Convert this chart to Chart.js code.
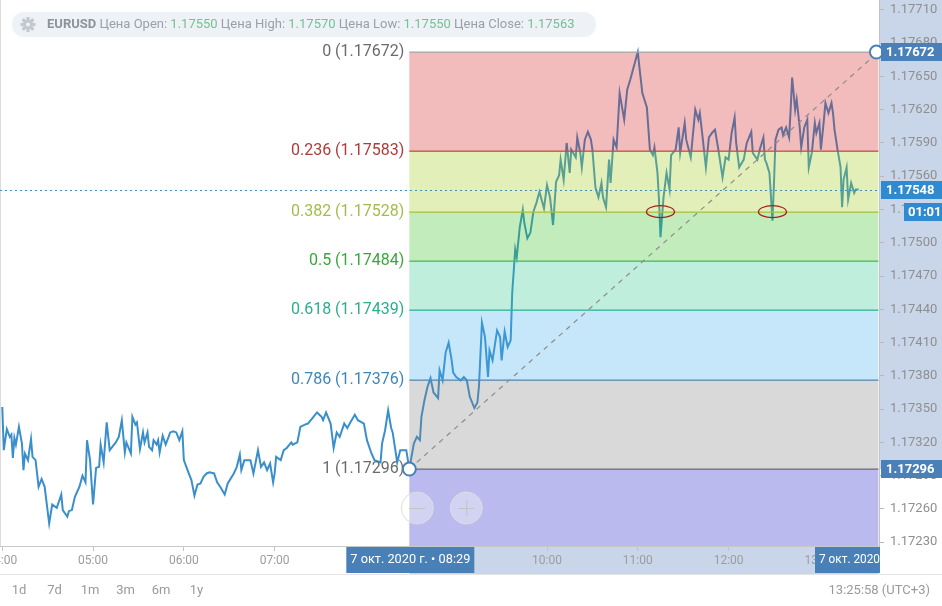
<!DOCTYPE html>
<html>
<head>
<meta charset="utf-8">
<script src="https://cdn.jsdelivr.net/npm/chart.js@4.4.1/dist/chart.umd.min.js"></script>
<style>
  html, body { margin: 0; padding: 0; background: #fff; }
  #wrap { width: 942px; height: 606px; position: relative; }
</style>
</head>
<body>
<div id="wrap"><canvas id="chart" width="942" height="606"></canvas></div>
<script>
// EURUSD, 7 Oct 2020
const times = [
  '04:00','04:01','04:03','04:05','04:06','04:07','04:08','04:09','04:11','04:13','04:14','04:15','04:17','04:19','04:20','04:22',
  '04:24','04:26','04:28','04:31','04:33','04:36','04:39','04:40','04:43','04:44','04:46','04:48','04:51','04:53','04:55','04:56',
  '04:58','05:00','05:02','05:04','05:05','05:07','05:09','05:11','05:15','05:17','05:19','05:21','05:22','05:25','05:26','05:28',
  '05:29','05:31','05:33','05:34','05:36','05:37','05:39','05:40','05:42','05:43','05:44','05:46','05:48','05:51','05:53','05:55',
  '05:57','05:59','06:00','06:03','06:05','06:07','06:09','06:11','06:13','06:15','06:17','06:20','06:22','06:24','06:27','06:29',
  '06:33','06:35','06:37','06:38','06:40','06:44','06:46','06:49','06:51','06:53','06:55','06:57','06:59','07:00','07:01','07:04',
  '07:06','07:08','07:11','07:12','07:15','07:17','07:20','07:22','07:25','07:28','07:31','07:32','07:34','07:37','07:39','07:41',
  '07:43','07:46','07:48','07:50','07:53','07:55','07:59','08:01','08:04','08:06','08:10','08:11','08:13','08:15','08:17','08:18',
  '08:21','08:23','08:25','08:27','08:29','08:32','08:34','08:36','08:37','08:39','08:41','08:43','08:45','08:48','08:49','08:51',
  '08:53','08:55','08:57','08:58','09:00','09:03','09:05','09:07','09:09','09:12','09:14','09:15','09:17','09:19','09:21','09:22',
  '09:24','09:27','09:29','09:30','09:32','09:34','09:36','09:37','09:39','09:40','09:42','09:44','09:45','09:47','09:49','09:51',
  '09:53','09:55','09:58','10:00','10:02','10:04','10:06','10:08','10:09','10:11','10:13','10:15','10:16','10:19','10:20','10:22',
  '10:23','10:25','10:27','10:29','10:30','10:32','10:34','10:36','10:37','10:39','10:41','10:42','10:44','10:46','10:48','10:51',
  '10:53','10:55','10:58','11:00','11:01','11:03','11:06','11:08','11:10','11:11','11:13','11:14','11:15','11:17','11:19','11:21',
  '11:22','11:25','11:27','11:28','11:31','11:32','11:35','11:38','11:40','11:41','11:43','11:45','11:47','11:49','11:51','11:53',
  '11:56','11:58','12:00','12:02','12:04','12:05','12:07','12:10','12:12','12:15','12:16','12:19','12:21','12:23','12:24','12:25',
  '12:27','12:29','12:30','12:31','12:33','12:35','12:36','12:38','12:40','12:41','12:42','12:44','12:45','12:47','12:48','12:50',
  '12:52','12:53','12:55','12:57','12:58','13:00','13:01','13:03','13:04','13:06','13:08','13:09','13:10','13:12','13:14','13:15',
  '13:16','13:18','13:19','13:21','13:23','13:24','13:26'
];
const prices = [
  1.17352,1.17313,1.17332,1.17325,1.17327,1.17306,1.17324,1.17318,1.17334,1.17319,1.17295,1.17310,1.17304,1.17323,1.17307,1.17304,
  1.17280,1.17287,1.17280,1.17247,1.17264,1.17261,1.17273,1.17259,1.17253,1.17258,1.17259,1.17271,1.17280,1.17290,1.17284,1.17322,
  1.17304,1.17264,1.17297,1.17298,1.17318,1.17302,1.17338,1.17313,1.17320,1.17325,1.17340,1.17311,1.17320,1.17310,1.17343,1.17336,
  1.17338,1.17314,1.17329,1.17320,1.17329,1.17316,1.17313,1.17322,1.17318,1.17322,1.17311,1.17326,1.17318,1.17329,1.17330,1.17329,
  1.17322,1.17330,1.17304,1.17293,1.17286,1.17272,1.17282,1.17283,1.17289,1.17292,1.17293,1.17292,1.17284,1.17280,1.17273,1.17283,
  1.17292,1.17298,1.17309,1.17295,1.17304,1.17304,1.17292,1.17313,1.17298,1.17302,1.17295,1.17301,1.17284,1.17292,1.17307,1.17304,
  1.17313,1.17315,1.17320,1.17318,1.17320,1.17334,1.17336,1.17337,1.17342,1.17347,1.17343,1.17340,1.17347,1.17337,1.17315,1.17329,
  1.17325,1.17337,1.17333,1.17338,1.17345,1.17340,1.17337,1.17322,1.17310,1.17304,1.17302,1.17319,1.17331,1.17349,1.17333,1.17329,
  1.17302,1.17313,1.17313,1.17313,1.17296,1.17319,1.17325,1.17322,1.17343,1.17358,1.17370,1.17378,1.17365,1.17360,1.17385,1.17376,
  1.17401,1.17410,1.17394,1.17383,1.17379,1.17376,1.17379,1.17376,1.17361,1.17351,1.17356,1.17370,1.17428,1.17415,1.17379,1.17403,
  1.17394,1.17421,1.17415,1.17394,1.17420,1.17406,1.17412,1.17455,1.17494,1.17487,1.17514,1.17530,1.17518,1.17504,1.17509,1.17528,
  1.17536,1.17546,1.17531,1.17552,1.17541,1.17516,1.17555,1.17561,1.17575,1.17557,1.17590,1.17563,1.17584,1.17577,1.17595,1.17581,
  1.17568,1.17593,1.17600,1.17593,1.17584,1.17550,1.17541,1.17554,1.17541,1.17532,1.17575,1.17554,1.17593,1.17586,1.17635,1.17611,
  1.17638,1.17647,1.17662,1.17672,1.17659,1.17635,1.17622,1.17584,1.17579,1.17586,1.17563,1.17539,1.17505,1.17541,1.17563,1.17548,
  1.17579,1.17584,1.17604,1.17581,1.17608,1.17593,1.17577,1.17620,1.17611,1.17617,1.17593,1.17568,1.17595,1.17599,1.17602,1.17586,
  1.17559,1.17577,1.17575,1.17599,1.17613,1.17590,1.17568,1.17575,1.17590,1.17600,1.17581,1.17575,1.17586,1.17595,1.17575,1.17572,
  1.17563,1.17520,1.17554,1.17593,1.17602,1.17604,1.17597,1.17604,1.17595,1.17620,1.17649,1.17620,1.17629,1.17604,1.17586,1.17604,
  1.17611,1.17568,1.17581,1.17608,1.17599,1.17608,1.17584,1.17611,1.17626,1.17617,1.17626,1.17617,1.17602,1.17584,1.17568,1.17532,
  1.17557,1.17568,1.17539,1.17554,1.17545,1.17548,1.17548
];

const xTicks = ['04:00','05:00','06:00','07:00','08:00','09:00','10:00','11:00','12:00','13:00'];
const yTicks = [1.17230,1.17260,1.17290,1.17320,1.17350,1.17380,1.17410,1.17440,1.17470,1.17500,
                1.17530,1.17560,1.17590,1.17620,1.17650,1.17680,1.17710];

const fibRatios = [0, 0.236, 0.382, 0.5, 0.618, 0.786, 1];
const fibPrices = [1.17672, 1.17583, 1.17528, 1.17484, 1.17439, 1.17376, 1.17296];
const fibStart = '08:29';
const fibEnd = '13:39';
const touchTimes = ['11:15', '12:29'];
const lastPrice = 1.17548;
const timerText = '01:01';

const legendNames = ['Open', 'High', 'Low', 'Close'];
const legendValues = ['1.17550', '1.17570', '1.17550', '1.17563'];
const periods = ['1d', '7d', '1m', '3m', '6m', '1y'];
const clockText = '13:25:58 (UTC+3)';
const startBadge = '7 окт. 2020 г. • 08:29';
const endBadge = '7 окт. 2020';

// looks
const lineColor = '#3a8fcb';
const bandColors = ['rgba(212,32,32,0.3)', 'rgba(162,202,23,0.3)', 'rgba(55,192,38,0.3)', 'rgba(45,198,138,0.3)',
                    'rgba(65,172,238,0.3)', 'rgba(128,128,128,0.3)', 'rgba(61,58,206,0.35)'];
const levelColors = ['#a9a9a9', '#d0443e', '#a8c43a', '#4cbb4c', '#2fb59a', '#5a88ad', '#6e6e7a'];
const labelColors = ['#6b6b6b', '#b03a3a', '#a3bd4c', '#38a838', '#2aae8c', '#3d86b8', '#6b6b6b'];
const FONT = 'Roboto, "Noto Sans", sans-serif';

const toMin = s => { const p = s.split(':'); return +p[0] * 60 + +p[1]; };
const fmtMin = v => String(Math.floor(v / 60)).padStart(2, '0') + ':' + String(Math.round(v % 60)).padStart(2, '0');

function roundRect(ctx, x, y, w, h, r) {
  ctx.beginPath();
  ctx.moveTo(x + r, y);
  ctx.arcTo(x + w, y, x + w, y + h, r);
  ctx.arcTo(x + w, y + h, x, y + h, r);
  ctx.arcTo(x, y + h, x, y, r);
  ctx.arcTo(x, y, x + w, y, r);
  ctx.closePath();
}

function fitText(ctx, text, x, y, maxW) {
  const w = ctx.measureText(text).width;
  if (w <= maxW) { ctx.fillText(text, x, y); return; }
  ctx.save();
  ctx.translate(x, y);
  ctx.scale(maxW / w, 1);
  ctx.fillText(text, 0, 0);
  ctx.restore();
}

const fibPlugin = {
  id: 'fib',
  beforeDraw(chart) {
    const { ctx, chartArea: a, scales: { x, y } } = chart;
    ctx.save();
    ctx.fillStyle = '#c9d6ea';
    // highlighted price range on right axis, time range on bottom axis
    const yLow = y.getPixelForValue(fibPrices[fibPrices.length - 1]);
    ctx.fillRect(a.right, 0, chart.width - a.right, yLow);
    const x0 = x.getPixelForValue(toMin(fibStart));
    const x1 = x.getPixelForValue(toMin(fibEnd));
    ctx.fillRect(x0, a.bottom, x1 - x0, 28);
    // separator + left border
    ctx.fillStyle = '#e4e4e4';
    ctx.fillRect(0, a.bottom + 28, chart.width, 1);
    ctx.fillStyle = '#dcdcdc';
    ctx.fillRect(0, 0, 1, a.bottom);
    ctx.restore();
  },
  afterDatasetsDraw(chart) {
    const { ctx, chartArea: a, scales: { x, y } } = chart;
    const x0 = x.getPixelForValue(toMin(fibStart));
    const x1 = x.getPixelForValue(toMin(fibEnd));
    const ys = fibPrices.map(p => y.getPixelForValue(p));
    ctx.save();
    // bands
    for (let i = 0; i < ys.length; i++) {
      const yb = i < ys.length - 1 ? ys[i + 1] : a.bottom;
      ctx.fillStyle = bandColors[i];
      ctx.fillRect(x0, ys[i], x1 - x0, yb - ys[i]);
    }
    // level lines and labels
    ctx.font = '16px ' + FONT;
    ctx.textAlign = 'right';
    ctx.textBaseline = 'middle';
    for (let i = 0; i < ys.length; i++) {
      ctx.fillStyle = levelColors[i];
      ctx.fillRect(x0, Math.round(ys[i]) - 0.5, x1 - x0, 1.3);
      ctx.fillStyle = labelColors[i];
      ctx.fillText(fibRatios[i] + ' (' + fibPrices[i].toFixed(5) + ')', x0 - 5, ys[i]);
    }
    // dotted last price line
    const yl = y.getPixelForValue(lastPrice);
    ctx.strokeStyle = lineColor;
    ctx.lineWidth = 1;
    ctx.setLineDash([2, 3]);
    ctx.beginPath();
    ctx.moveTo(a.left, Math.round(yl) + 0.5);
    ctx.lineTo(a.right, Math.round(yl) + 0.5);
    ctx.stroke();
    // trend line
    const yStart = ys[ys.length - 1], yEnd = ys[0];
    ctx.strokeStyle = '#8c8c8c';
    ctx.lineWidth = 1.2;
    ctx.setLineDash([5, 5]);
    ctx.beginPath();
    ctx.moveTo(x0, yStart);
    ctx.lineTo(x1, yEnd);
    ctx.stroke();
    ctx.setLineDash([]);
    // ellipses at touches of 0.382
    ctx.strokeStyle = '#a8201c';
    ctx.lineWidth = 1.3;
    touchTimes.forEach(t => {
      ctx.beginPath();
      ctx.ellipse(x.getPixelForValue(toMin(t)), ys[2], 14, 6, 0, 0, Math.PI * 2);
      ctx.stroke();
    });
    // zoom buttons
    const by = a.bottom - 38;
    [[x0 + 8, '-'], [x0 + 57, '+']].forEach(([cx, s]) => {
      ctx.beginPath();
      ctx.arc(cx, by, 16, 0, Math.PI * 2);
      ctx.fillStyle = 'rgba(255,255,255,0.35)';
      ctx.fill();
      ctx.strokeStyle = '#dcdcdc';
      ctx.lineWidth = 1;
      ctx.stroke();
      ctx.strokeStyle = '#c4c4c4';
      ctx.beginPath();
      ctx.moveTo(cx - 8, by + 0.5); ctx.lineTo(cx + 8, by + 0.5);
      if (s === '+') { ctx.moveTo(cx + 0.5, by - 8); ctx.lineTo(cx + 0.5, by + 8); }
      ctx.stroke();
    });
    // anchor points
    ctx.lineWidth = 2;
    ctx.strokeStyle = '#4a80b8';
    ctx.fillStyle = '#fff';
    [[x0, yStart], [x1 - 2, yEnd]].forEach(([px, py]) => {
      ctx.beginPath();
      ctx.arc(px, py, 6.5, 0, Math.PI * 2);
      ctx.fill();
      ctx.stroke();
    });
    ctx.restore();
  },
  afterDraw(chart) {
    const { ctx, chartArea: a, scales: { x, y } } = chart;
    ctx.save();
    ctx.textBaseline = 'middle';
    // price badges on the right axis
    const badge = (val, bg, txt, left) => {
      const py = Math.round(y.getPixelForValue(val));
      ctx.fillStyle = bg;
      ctx.fillRect(left, py - 9, chart.width - left, 18);
      ctx.fillStyle = '#fff';
      ctx.font = 'bold 13px ' + FONT;
      ctx.textAlign = 'left';
      ctx.fillText(txt, left + 5, py + 1);
      return py;
    };
    badge(fibPrices[0], '#4a80b8', fibPrices[0].toFixed(5), a.right + 2);
    badge(fibPrices[6], '#4a80b8', fibPrices[6].toFixed(5), a.right + 2);
    const py = badge(lastPrice, '#2f8ad0', lastPrice.toFixed(5), a.right + 2);
    ctx.fillStyle = '#2f8ad0';
    ctx.fillRect(904, py + 13, chart.width - 904, 18);
    ctx.fillStyle = '#fff';
    ctx.fillText(timerText, 908, py + 23);

    // time badges on the bottom axis
    ctx.font = '13px ' + FONT;
    const x0 = x.getPixelForValue(toMin(fibStart));
    ctx.fillStyle = '#4a80b8';
    ctx.fillRect(x0 - 63, a.bottom + 1, 128, 26);
    ctx.fillStyle = '#fff';
    ctx.textAlign = 'center';
    fitText(ctx, startBadge, x0 + 1, a.bottom + 14, 120);
    ctx.save();
    ctx.beginPath();
    ctx.rect(0, a.bottom, a.right + 1, 30);
    ctx.clip();
    ctx.fillStyle = '#4a80b8';
    ctx.fillRect(815, a.bottom + 1, 70, 26);
    ctx.fillStyle = '#fff';
    ctx.textAlign = 'left';
    fitText(ctx, endBadge, 819, a.bottom + 14, 61);
    ctx.restore();

    // legend pill
    ctx.fillStyle = '#eef2f6';
    roundRect(ctx, 12, 12, 584, 25, 12);
    ctx.fill();
    // gear
    ctx.fillStyle = '#c3c8ce';
    ctx.save();
    ctx.translate(28, 24.5);
    for (let k = 0; k < 8; k++) {
      ctx.rotate(Math.PI / 4);
      ctx.fillRect(-1.6, -7.5, 3.2, 4);
    }
    ctx.beginPath();
    ctx.arc(0, 0, 5, 0, Math.PI * 2);
    ctx.fill();
    ctx.fillStyle = '#eef2f6';
    ctx.beginPath();
    ctx.arc(0, 0, 2, 0, Math.PI * 2);
    ctx.fill();
    ctx.restore();
    const parts = [['EURUSD', '#8b929b', 'bold ']];
    legendNames.forEach((n, i) => {
      parts.push([' Цена ' + n + ': ', '#9aa0a8', '']);
      parts.push([legendValues[i], '#74c194', '']);
    });
    let total = 0;
    parts.forEach(p => { ctx.font = p[2] + '13px ' + FONT; total += ctx.measureText(p[0]).width; });
    const sx = Math.min(1, 536 / total);
    ctx.save();
    ctx.translate(47, 25);
    ctx.scale(sx, 1);
    ctx.textAlign = 'left';
    let cx = 0;
    parts.forEach(p => {
      ctx.font = p[2] + '13px ' + FONT;
      ctx.fillStyle = p[1];
      ctx.fillText(p[0], cx, 0);
      cx += ctx.measureText(p[0]).width;
    });
    ctx.restore();

    // bottom row
    ctx.font = '13px ' + FONT;
    ctx.fillStyle = '#9a9a9a';
    ctx.textAlign = 'center';
    periods.forEach((p, i) => ctx.fillText(p, 19 + i * 35.5, 591));
    ctx.textAlign = 'right';
    ctx.fillText(clockText, 930, 591);
    ctx.restore();
  }
};

new Chart(document.getElementById('chart'), {
  type: 'line',
  data: {
    datasets: [{
      label: 'EURUSD',
      data: times.map((t, i) => ({ x: toMin(t), y: prices[i] })),
      borderColor: lineColor,
      borderWidth: 2,
      pointRadius: 0,
      tension: 0
    }]
  },
  options: {
    responsive: false,
    animation: false,
    devicePixelRatio: 1,
    layout: { padding: { left: 0, top: 0, right: 0, bottom: 32 } },
    plugins: { legend: { display: false }, tooltip: { enabled: false } },
    scales: {
      x: {
        type: 'linear',
        min: 238.5,
        max: 819.4,
        afterBuildTicks: s => { s.ticks = xTicks.map(t => ({ value: toMin(t) })); },
        afterFit: s => { s.height = 28; s.paddingLeft = 0; s.paddingRight = 0; },
        ticks: {
          callback: v => fmtMin(v),
          autoSkip: false,
          maxRotation: 0,
          color: '#9c9c9c',
          font: { family: FONT, size: 12 },
          padding: 3
        },
        grid: { drawOnChartArea: false, tickLength: 5, color: '#c4c4c4' },
        border: { color: '#c8c8c8' }
      },
      y: {
        position: 'right',
        min: 1.172266,
        max: 1.177189,
        afterBuildTicks: s => { s.ticks = yTicks.map(v => ({ value: v })); },
        afterFit: s => { s.width = 63; s.paddingTop = 0; s.paddingBottom = 0; },
        ticks: {
          callback: v => v.toFixed(5),
          color: '#8f8f8f',
          font: { family: FONT, size: 13 },
          padding: 6
        },
        grid: { drawOnChartArea: false, tickLength: 5, color: '#b8b8b8' },
        border: { color: '#c4c4c4' }
      }
    }
  },
  plugins: [fibPlugin]
});
</script>
</body>
</html>
